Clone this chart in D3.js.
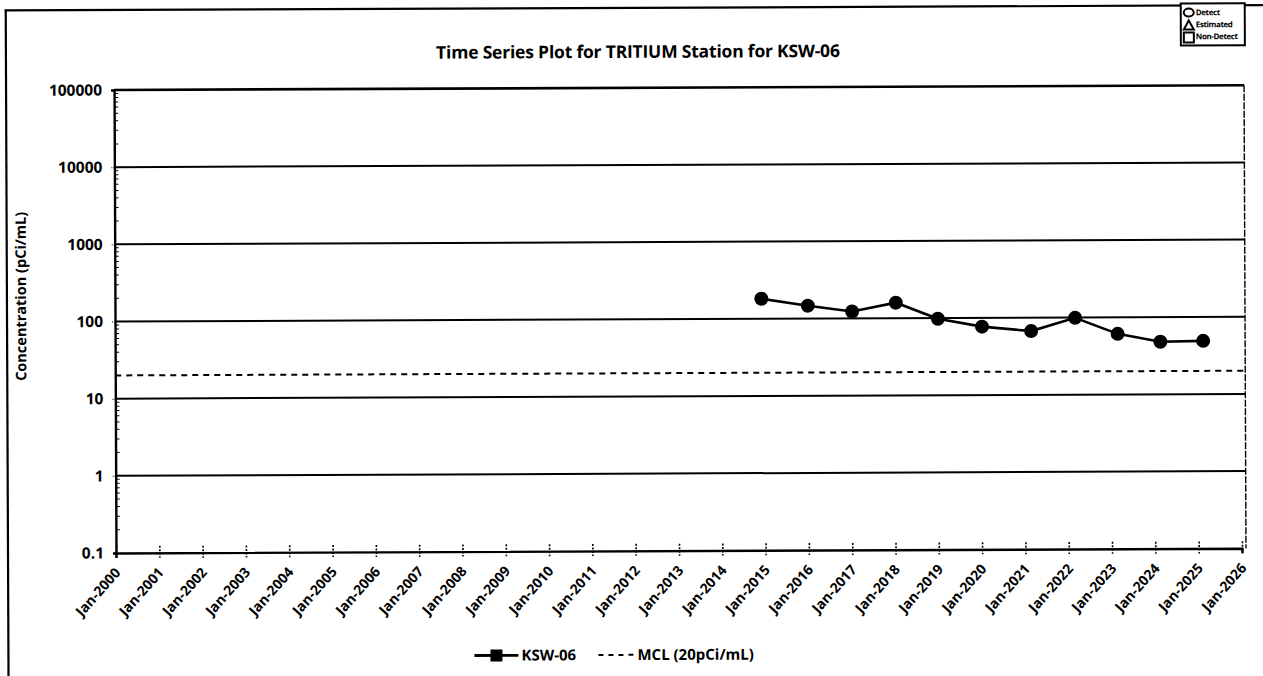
<!DOCTYPE html>
<html>
<head>
<meta charset="utf-8">
<script src="https://cdn.jsdelivr.net/npm/d3@7"></script>
<style>
  body { margin: 0; background: #fff; }
  svg { display: block; }
  text { font-family: "Open Sans", "DejaVu Sans", sans-serif; font-weight: 700; fill: #000; }
</style>
</head>
<body>
<svg id="chart" width="1263" height="676"></svg>
<script>
// ---- data ----
const yearTicks = d3.range(2000, 2027);
const sampleDates = ["2014-12-05", "2016-01-01", "2017-01-08", "2018-01-12", "2019-01-01",
                     "2020-01-08", "2021-02-25", "2022-03-03", "2023-02-25", "2024-02-20", "2025-02-15"];
const tritium = [182, 147, 123, 159, 98, 77, 67, 99, 61, 48, 49];
const mclValue = 20;
const yTickValues = [0.1, 1, 10, 100, 1000, 10000, 100000];
const yTickLabels = ["0.1", "1", "10", "100", "1000", "10000", "100000"];
const qualifierLabels = ["Detect", "Estimated", "Non-Detect"];
const seriesName = "KSW-06";
const mclName = "MCL (20pCi/mL)";
const titleText = "Time Series Plot for TRITIUM Station for KSW-06";
const yTitle = "Concentration (pCi/mL)";

// ---- layout ----
const W = 1263, H = 676;
const plot = { left: 116, right: 1242, border: 1246, top: 90, bottom: 553 };

const svg = d3.select("#chart");
svg.append("rect").attr("width", W).attr("height", H).attr("fill", "#fff");
const g = svg.append("g").attr("transform", "rotate(-0.24,116,553)");

const parse = d3.timeParse("%Y-%m-%d");
const x = d3.scaleTime()
  .domain([new Date(2000, 0, 1), new Date(2026, 0, 1)])
  .range([plot.left, plot.right]);
const y = d3.scaleLog().domain([0.1, 100000]).range([plot.bottom, plot.top]);

// outer frame
g.append("line").attr("x1", 7).attr("x2", 1270).attr("y1", 10).attr("y2", 10)
  .attr("stroke", "#000").attr("stroke-width", 2.2);
g.append("line").attr("x1", 8).attr("x2", 8).attr("y1", 9).attr("y2", 690)
  .attr("stroke", "#000").attr("stroke-width", 2.2);

// title
g.append("text").attr("x", 640).attr("y", 60).attr("text-anchor", "middle")
  .style("font-size", "17.5px").style("letter-spacing", "-0.2px").text(titleText);

// horizontal decade gridlines
g.append("g").selectAll("line")
  .data(yTickValues.filter(v => v > 0.1))
  .join("line")
  .attr("x1", plot.left).attr("x2", plot.border)
  .attr("y1", d => y(d)).attr("y2", d => y(d))
  .attr("stroke", "#000").attr("stroke-width", d => d === 100000 ? 2.6 : 2);

// right border
g.append("line").attr("x1", plot.border).attr("x2", plot.border)
  .attr("y1", plot.top).attr("y2", plot.bottom)
  .attr("stroke", "#000").attr("stroke-width", 1.4).attr("stroke-dasharray", "7,1.5");

// minor log ticks on the y axis
const minors = [];
for (let e = -1; e < 5; e++) for (let k = 2; k <= 9; k++) minors.push(k * Math.pow(10, e));
g.append("g").selectAll("line").data(minors).join("line")
  .attr("x1", plot.left).attr("x2", plot.left + 4)
  .attr("y1", d => y(d)).attr("y2", d => y(d))
  .attr("stroke", "#000").attr("stroke-width", 1);

// y axis
const yAxis = d3.axisLeft(y)
  .tickValues(yTickValues)
  .tickFormat((d, i) => yTickLabels[i])
  .tickSize(3).tickPadding(9);
const yg = g.append("g").attr("transform", `translate(${plot.left},0)`).call(yAxis);
yg.select(".domain").attr("stroke", "#000").attr("stroke-width", 2.4);
yg.selectAll(".tick line").attr("stroke", "#000").attr("stroke-width", 1).attr("stroke-dasharray", "1,1");
yg.selectAll(".tick text").style("font-size", "15.5px").attr("fill", "#000")
  .style("font-family", "'Open Sans', sans-serif").style("font-weight", 700);

// x axis
const xTickDates = yearTicks.map(yr => new Date(yr, 0, 1));
const xAxis = d3.axisBottom(x)
  .tickValues(xTickDates)
  .tickFormat(d3.timeFormat("Jan-%Y"))
  .tickSize(5).tickPadding(4);
const xg = g.append("g").attr("transform", `translate(0,${plot.bottom})`).call(xAxis);
xg.select(".domain").attr("stroke", "#000").attr("stroke-width", 2.4);
xg.selectAll(".tick line").attr("y1", -7).attr("y2", 5)
  .attr("stroke", "#000").attr("stroke-width", 1.6).attr("stroke-dasharray", "2,1.5");
xg.selectAll(".tick text")
  .style("font-size", "14px").attr("fill", "#000")
  .style("font-family", "'Open Sans', sans-serif").style("font-weight", 700)
  .attr("text-anchor", "end")
  .attr("x", 0).attr("y", 0).attr("dy", "0.35em")
  .attr("transform", "translate(1,17) rotate(-48)");

// y-axis title
g.append("text")
  .attr("transform", "translate(22,296) rotate(-90)")
  .attr("text-anchor", "middle").attr("dy", "0.35em")
  .style("font-size", "14.5px").text(yTitle);

// MCL reference line
g.append("line")
  .attr("x1", plot.left).attr("x2", plot.border)
  .attr("y1", y(mclValue)).attr("y2", y(mclValue))
  .attr("stroke", "#000").attr("stroke-width", 2).attr("stroke-dasharray", "6,5");

// KSW-06 series
const pts = sampleDates.map((d, i) => ({ date: parse(d), value: tritium[i] }));
g.append("path").datum(pts)
  .attr("fill", "none").attr("stroke", "#000").attr("stroke-width", 2.6)
  .attr("d", d3.line().x(d => x(d.date)).y(d => y(d.value)));
g.append("g").selectAll("circle").data(pts).join("circle")
  .attr("cx", d => x(d.date)).attr("cy", d => y(d.value)).attr("r", 7)
  .attr("fill", "#000");

// bottom legend
const lg = g.append("g").attr("transform", "translate(0,657)");
lg.append("line").attr("x1", 474).attr("x2", 518).attr("y1", 0).attr("y2", 0)
  .attr("stroke", "#000").attr("stroke-width", 2.8);
lg.append("rect").attr("x", 490).attr("y", -6).attr("width", 12).attr("height", 12).attr("fill", "#000");
lg.append("text").attr("x", 521).attr("y", 0).attr("dy", "0.35em")
  .style("font-size", "15px").text(seriesName);
lg.append("line").attr("x1", 598).attr("x2", 636).attr("y1", 0).attr("y2", 0)
  .attr("stroke", "#000").attr("stroke-width", 2).attr("stroke-dasharray", "5,5");
lg.append("text").attr("x", 637).attr("y", 0).attr("dy", "0.35em")
  .style("font-size", "15px").text(mclName);

// qualifier symbol key (top right)
const kg = g.append("g").attr("transform", "translate(1183,8)");
kg.append("rect").attr("width", 64).attr("height", 42)
  .attr("fill", "#fff").attr("stroke", "#000").attr("stroke-width", 2);
const rows = kg.selectAll("g").data(qualifierLabels).join("g")
  .attr("transform", (d, i) => `translate(0,${9 + i * 12})`);
rows.filter((d, i) => i === 0).append("ellipse")
  .attr("cx", 8).attr("cy", 0).attr("rx", 5).attr("ry", 4)
  .attr("fill", "none").attr("stroke", "#000").attr("stroke-width", 2);
rows.filter((d, i) => i === 1).append("path")
  .attr("d", "M3,5 L8,-4 L13,5 Z")
  .attr("fill", "none").attr("stroke", "#000").attr("stroke-width", 2);
rows.filter((d, i) => i === 2).append("rect")
  .attr("x", 3).attr("y", -4).attr("width", 10).attr("height", 10)
  .attr("fill", "none").attr("stroke", "#000").attr("stroke-width", 2);
rows.append("text").attr("x", 15).attr("y", 0).attr("dy", "0.35em")
  .style("font-size", "8px").style("letter-spacing", "-0.4px").text(d => d);
</script>
</body>
</html>
